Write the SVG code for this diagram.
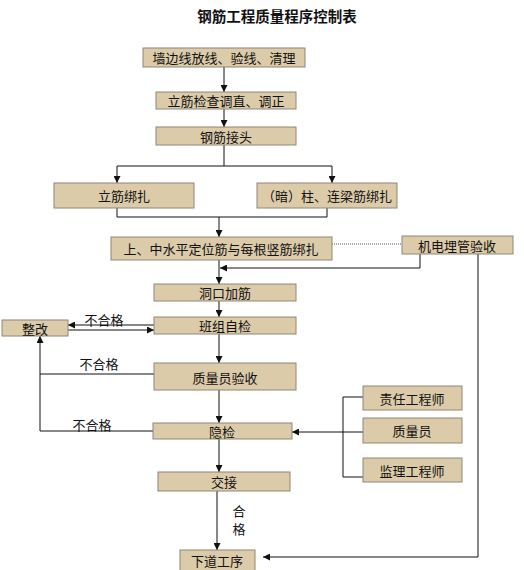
<svg xmlns="http://www.w3.org/2000/svg" width="524" height="570" viewBox="0 0 524 570">
<style>
.box{fill:#dccba9;stroke:#8f8677;stroke-width:1}
.t{font-family:"Noto Sans CJK SC","Noto Sans",sans-serif;font-size:13px;fill:#111;text-anchor:middle;dominant-baseline:central}
.l{font-family:"Noto Sans CJK SC","Noto Sans",sans-serif;font-size:13px;fill:#111;text-anchor:middle;dominant-baseline:central}
.ln{fill:none;stroke:#111;stroke-width:1}
.dot{fill:none;stroke:#555;stroke-width:1;stroke-dasharray:1 1}
</style>
<defs>
<marker id="a" viewBox="0 0 10 10" refX="10" refY="5" markerWidth="7" markerHeight="7" orient="auto" markerUnits="userSpaceOnUse"><path d="M0,0 L10,5 L0,10 z" fill="#111"/></marker>
</defs>
<rect width="524" height="570" fill="#fff"/>
<text x="277" y="15" style="font-family:'Noto Sans CJK SC',sans-serif;font-size:14.5px;font-weight:bold;text-anchor:middle;dominant-baseline:central;fill:#111">钢筋工程质量程序控制表</text>
<g id="connectors">
<path class="ln" d="M224,67 V92" marker-end="url(#a)"/>
<path class="ln" d="M224,109 V127" marker-end="url(#a)"/>
<path class="ln" d="M224,145 V166"/>
<path class="ln" d="M117,166 H332"/>
<path class="ln" d="M117,166 V183" marker-end="url(#a)"/>
<path class="ln" d="M332,166 V183" marker-end="url(#a)"/>
<path class="ln" d="M117,208 V217 H327 V208"/>
<path class="ln" d="M219,217 V237" marker-end="url(#a)"/>
<path class="dot" d="M332,244 H402"/>
<path class="ln" d="M219,260 V284" marker-end="url(#a)"/>
<path class="ln" d="M420,254 V268 H220" marker-end="url(#a)"/>
<path class="ln" d="M478,254 V557 H263" marker-end="url(#a)"/>
<path class="ln" d="M219,301 V317" marker-end="url(#a)"/>
<path class="ln" d="M154,325 H68" marker-end="url(#a)"/>
<path class="ln" d="M68,330 H154" marker-end="url(#a)"/>
<path class="ln" d="M219,334 V363" marker-end="url(#a)"/>
<path class="ln" d="M154,374 H40"/>
<path class="ln" d="M153,431 H40 V336" marker-end="url(#a)"/>
<path class="ln" d="M219,390 V423" marker-end="url(#a)"/>
<path class="ln" d="M219,439 V472" marker-end="url(#a)"/>
<path class="ln" d="M363,397 H343 V477 H363"/>
<path class="ln" d="M363,432 H343"/>
<path class="ln" d="M343,432 H292" marker-end="url(#a)"/>
<path class="ln" d="M217,491 V550" marker-end="url(#a)"/>
<text class="l" x="104" y="319">不合格</text>
<text class="l" x="99" y="363">不合格</text>
<text class="l" x="92" y="424">不合格</text>
<text class="l" x="239" y="510">合</text>
<text class="l" x="239" y="528">格</text>
</g>
<g id="n1"><rect class="box" x="143" y="48" width="162" height="19"/><text class="t" x="224" y="57.5">墙边线放线、验线、清理</text></g>
<g id="n2"><rect class="box" x="156" y="92" width="140" height="17"/><text class="t" x="226" y="100.5">立筋检查调直、调正</text></g>
<g id="n3"><rect class="box" x="156" y="127" width="140" height="18"/><text class="t" x="226" y="136">钢筋接头</text></g>
<g id="n4"><rect class="box" x="54" y="183" width="140" height="25"/><text class="t" x="124" y="195.5">立筋绑扎</text></g>
<g id="n5"><rect class="box" x="257" y="183" width="140" height="25"/><text class="t" x="327" y="195.5">（暗）柱、连梁筋绑扎</text></g>
<g id="n6"><rect class="box" x="111" y="237" width="221" height="23"/><text class="t" x="221" y="248.5">上、中水平定位筋与每根竖筋绑扎</text></g>
<g id="n7"><rect class="box" x="402" y="236" width="111" height="18"/><text class="t" x="457" y="245">机电埋管验收</text></g>
<g id="n8"><rect class="box" x="154" y="284" width="142" height="17"/><text class="t" x="225" y="292.5">洞口加筋</text></g>
<g id="n9"><rect class="box" x="154" y="317" width="142" height="17"/><text class="t" x="225" y="325.5">班组自检</text></g>
<g id="n10"><rect class="box" x="2" y="320" width="66" height="16"/><text class="t" x="35" y="328">整改</text></g>
<g id="n11"><rect class="box" x="154" y="363" width="142" height="27"/><text class="t" x="225" y="377">质量员验收</text></g>
<g id="n12"><rect class="box" x="153" y="423" width="139" height="16"/><text class="t" x="222" y="431">隐检</text></g>
<g id="n13"><rect class="box" x="158" y="472" width="132" height="19"/><text class="t" x="224" y="481">交接</text></g>
<g id="n14"><rect class="box" x="363" y="386" width="99" height="24"/><text class="t" x="412" y="398">责任工程师</text></g>
<g id="n15"><rect class="box" x="363" y="418" width="99" height="25"/><text class="t" x="412" y="430.5">质量员</text></g>
<g id="n16"><rect class="box" x="363" y="458" width="99" height="24"/><text class="t" x="412" y="470">监理工程师</text></g>
<g id="n17"><rect class="box" x="180" y="550" width="75" height="22"/><text class="t" x="217" y="560">下道工序</text></g>
</svg>
